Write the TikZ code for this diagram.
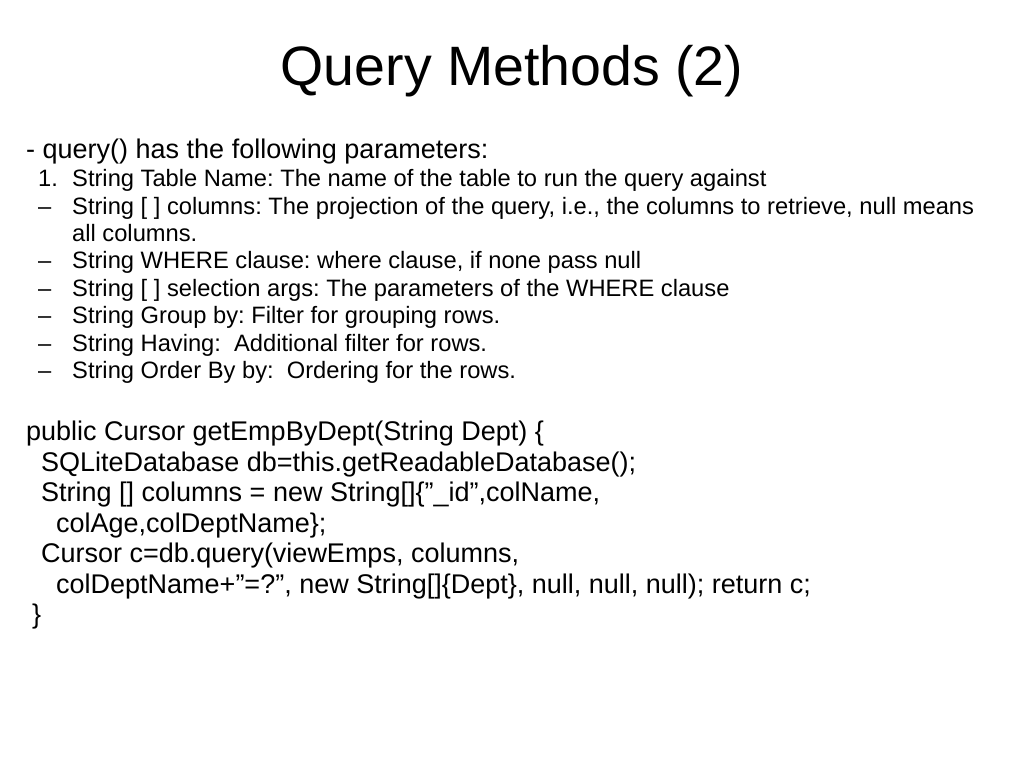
\documentclass[tikz,border=0pt]{standalone}
\usepackage{fontspec}
\setmainfont{Liberation Sans}
\newcommand{\dq}{\char34\relax}
\begin{document}
\frenchspacing
\begin{tikzpicture}[x=1pt,y=-1pt,
  t/.style={anchor=base west,inner sep=0pt,font=\fontsize{27}{27}\selectfont},
  s/.style={anchor=base west,inner sep=0pt,font=\fontsize{23.7}{24}\selectfont}]
\useasboundingbox (0,0) rectangle (1024,768);
\node[anchor=base,inner sep=0pt,font=\fontsize{55.5}{56}\selectfont] (title) at (512,85) {Query Methods (2)};
\node[t] (l0) at (26,158) {- query() has the following parameters:};
\node[s] (n1) at (38,186) {1.};
\node[s] (i1) at (72,186) {String Table Name: The name of the table to run the query against};
\node[s] (d2) at (38,214) {--};
\node[s] (i2) at (72,214) {String [ ] columns: The projection of the query, i.e., the columns to retrieve, null means};
\node[s] (i2b) at (72,241) {all columns.};
\node[s] (d3) at (38,268) {--};
\node[s] (i3) at (72,268) {String WHERE clause: where clause, if none pass null};
\node[s] (d4) at (38,296) {--};
\node[s] (i4) at (72,296) {String [ ] selection args: The parameters of the WHERE clause};
\node[s] (d5) at (38,323) {--};
\node[s] (i5) at (72,323) {String Group by: Filter for grouping rows.};
\node[s] (d6) at (38,351) {--};
\node[s] (i6) at (72,351) {String Having:\ \ Additional filter for rows.};
\node[s] (d7) at (38,378) {--};
\node[s] (i7) at (72,378) {String Order By by:\ \ Ordering for the rows.};
\node[t] (c1) at (26,440) {public Cursor getEmpByDept(String Dept) \{};
\node[t] (c2) at (41,471) {SQLiteDatabase db=this.getReadableDatabase();};
\node[t] (c3) at (41,501) {String [] columns = new String[]\{\dq\_id\dq,colName,};
\node[t] (c4) at (56,532) {colAge,colDeptName\};};
\node[t] (c5) at (41,562) {Cursor c=db.query(viewEmps, columns,};
\node[t] (c6) at (56,593) {colDeptName+\dq=?\dq, new String[]\{Dept\}, null, null, null); return c;};
\node[t] (c7) at (32,623) {\}};
\end{tikzpicture}
\end{document}
